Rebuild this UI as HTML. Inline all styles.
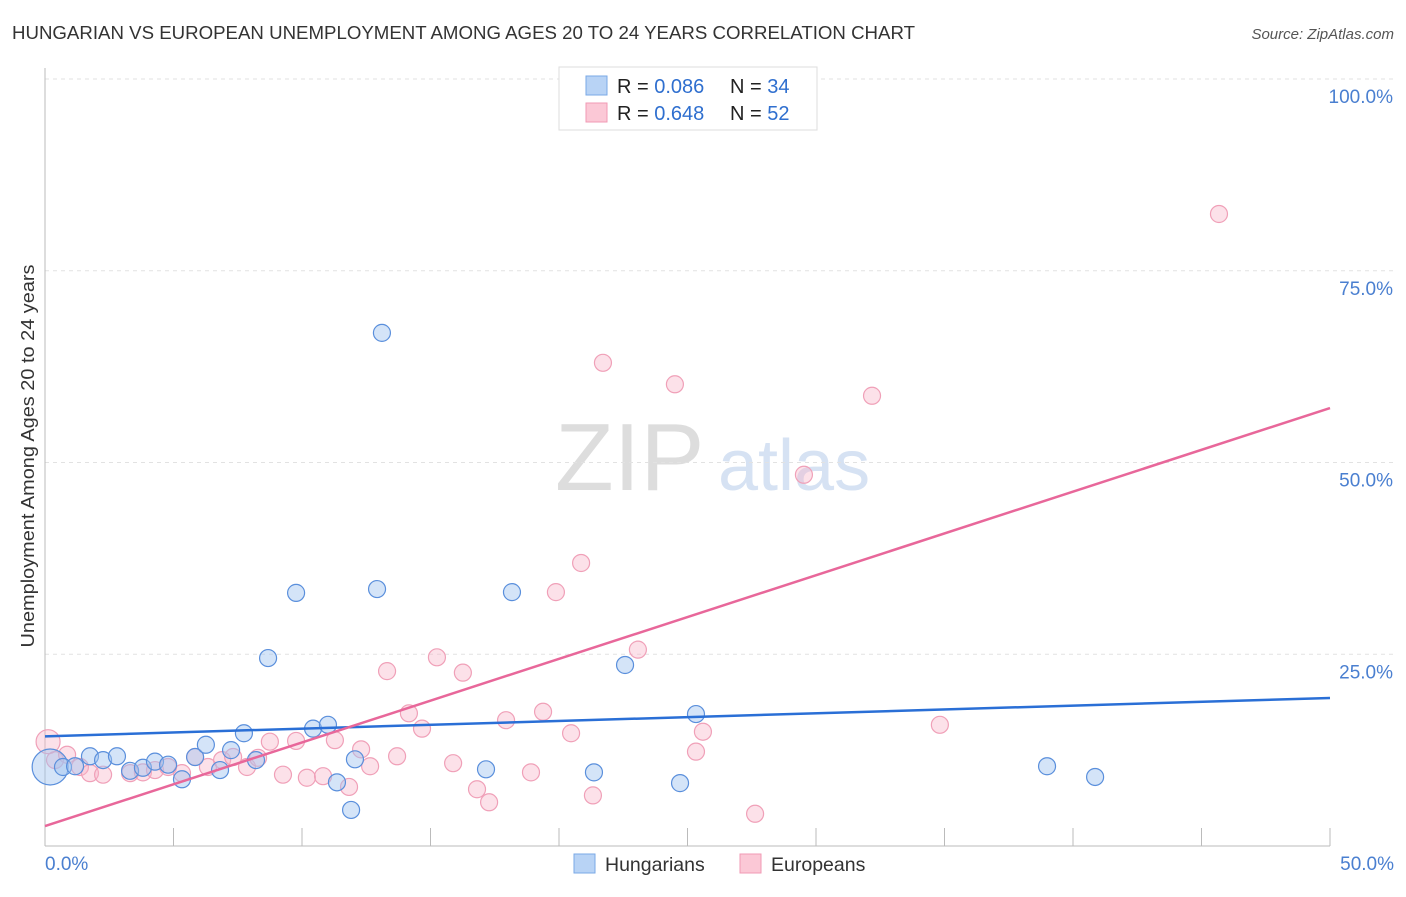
<!DOCTYPE html>
<html><head><meta charset="utf-8"><style>
body{margin:0;background:#fff;font-family:"Liberation Sans",sans-serif}
svg text{font-family:"Liberation Sans",sans-serif}
</style></head><body>
<svg id="c" width="1406" height="892">
<text x="12" y="39" font-size="18" fill="#333" textLength="903" lengthAdjust="spacingAndGlyphs">HUNGARIAN VS EUROPEAN UNEMPLOYMENT AMONG AGES 20 TO 24 YEARS CORRELATION CHART</text>
<text x="1394" y="39" font-size="15" fill="#555" font-style="italic" text-anchor="end">Source: ZipAtlas.com</text>
<text x="555" y="490" font-size="96" fill="#ddd" font-family="Liberation Serif">ZIP</text>
<text x="718" y="490" font-size="72" fill="#d6e2f3">atlas</text>
<text transform="translate(34,456) rotate(-90)" font-size="18" fill="#333" text-anchor="middle" textLength="383" lengthAdjust="spacingAndGlyphs">Unemployment Among Ages 20 to 24 years</text>
<g id="grid"></g><g id="marks"></g>
<g>
<rect x="559" y="67" width="258" height="63" fill="#fff" stroke="#ddd"/>
<rect x="586" y="76" width="21" height="19" fill="#b8d3f5" stroke="#7aa8e6"/>
<rect x="586" y="103" width="21" height="19" fill="#fbc8d6" stroke="#f09ab4"/>
<text x="617" y="93" font-size="20" fill="#222">R = <tspan fill="#2f6fcf">0.086</tspan></text>
<text x="730" y="93" font-size="20" fill="#222">N = <tspan fill="#2f6fcf">34</tspan></text>
<text x="617" y="120" font-size="20" fill="#222">R = <tspan fill="#2f6fcf">0.648</tspan></text>
<text x="730" y="120" font-size="20" fill="#222">N = <tspan fill="#2f6fcf">52</tspan></text>
</g>
<g>
<rect x="574" y="854" width="21" height="19" fill="#b8d3f5" stroke="#7aa8e6"/>
<text x="605" y="871" font-size="19.5" fill="#333">Hungarians</text>
<rect x="740" y="854" width="21" height="19" fill="#fbc8d6" stroke="#f09ab4"/>
<text x="771" y="871" font-size="19.5" fill="#333">Europeans</text>
</g>
</svg>
<script>
const yTicks=[25,50,75,100];
const yTickLabels=["25.0%","50.0%","75.0%","100.0%"];
const blueX=[0.2,0.7,1.17,1.75,2.26,2.8,3.31,3.81,4.28,4.79,5.33,5.84,6.26,6.81,7.24,7.74,8.21,8.68,9.77,10.43,11.01,11.36,11.91,12.06,12.92,13.11,17.16,18.17,21.36,22.57,24.71,25.33,38.99,40.86];
const blueY=[10.3,10.3,10.4,11.7,11.2,11.7,9.8,10.2,11.0,10.6,8.7,11.6,13.2,9.9,12.5,14.7,11.2,24.5,33.0,15.3,15.8,8.3,4.7,11.3,33.5,66.9,10.0,33.1,9.6,23.6,8.2,17.2,10.4,9.0];
const pinkX=[0.12,0.39,0.86,1.36,1.75,2.26,3.31,3.81,4.28,4.79,5.33,5.84,6.34,6.89,7.32,7.86,8.29,8.75,9.26,9.77,10.19,10.82,11.28,11.83,12.3,12.65,13.31,13.7,14.16,14.67,15.25,15.88,16.26,16.81,17.28,17.94,18.91,19.38,20.47,20.86,19.88,21.32,21.71,23.07,24.51,25.33,25.6,27.63,29.53,32.18,34.82,45.68];
const pinkY=[13.6,11.2,11.9,10.3,9.5,9.3,9.5,9.6,9.9,10.3,9.5,11.6,10.3,11.2,11.6,10.3,11.5,13.6,9.3,13.7,8.9,9.1,13.8,7.7,12.6,10.4,22.8,11.7,17.3,15.3,24.6,10.8,22.6,7.4,5.7,16.4,9.6,17.5,14.7,36.9,33.1,6.6,63.0,25.6,60.2,12.3,14.9,4.2,48.4,58.7,15.8,82.4];
const blueTrend=[14.3,19.3];
const pinkTrend=[2.6,57.1];
const X=v=>45+v/50*1285, Y=v=>846-v*7.67;
const NS="http://www.w3.org/2000/svg";
function mk(t,a,p){const e=document.createElementNS(NS,t);for(const k in a)e.setAttribute(k,a[k]);p.appendChild(e);return e;}
const g=document.getElementById('grid'), m=document.getElementById('marks');
yTicks.forEach((t,i)=>{
 const l=mk('line',{x1:45,x2:1394,y1:Y(t),y2:Y(t),stroke:'#e2e2e2','stroke-dasharray':'4,4'},g);
 
 
 const tx=mk('text',{x:1393,y:Y(t)+24,'font-size':19,fill:'#4a7fd0','text-anchor':'end'},g);
 tx.textContent=yTickLabels[i];
 
 
});
const ax=mk('line',{x1:45,x2:45,y1:68,y2:846,stroke:'#bbb'},g);


const bx=mk('line',{x1:45,x2:1330,y1:846,y2:846,stroke:'#bbb'},g);


for(let i=1;i<=10;i++){const t=mk('line',{x1:X(i*5),x2:X(i*5),y1:828,y2:846,stroke:'#bbb'},g);
 
 }
[[45,'start','0.0%'],[1394,'end','50.0%']].forEach(a=>{const t=mk('text',{x:a[0],y:870,'font-size':19,fill:'#4a7fd0','text-anchor':a[1]},g);t.textContent=a[2];
 
 });
pinkX.forEach((v,i)=>{const c=mk('circle',{cx:X(v),cy:Y(pinkY[i]),r:i==0?12:8.5,fill:'rgba(248,180,200,0.4)',stroke:'#f0a0b8','stroke-width':1.2},m);
 
 });
blueX.forEach((v,i)=>{const c=mk('circle',{cx:X(v),cy:Y(blueY[i]),r:i==0?18:8.5,fill:'rgba(160,195,240,0.45)',stroke:'#5a8fdc','stroke-width':1.2},m);
 
 });
const tb=mk('line',{x1:X(0),x2:X(50),y1:Y(blueTrend[0]),y2:Y(blueTrend[1]),stroke:'#2a6fd6','stroke-width':2.5},m);


const tp=mk('line',{x1:X(0),x2:X(50),y1:Y(pinkTrend[0]),y2:Y(pinkTrend[1]),stroke:'#e8679a','stroke-width':2.5},m);


</script>
</body></html>
